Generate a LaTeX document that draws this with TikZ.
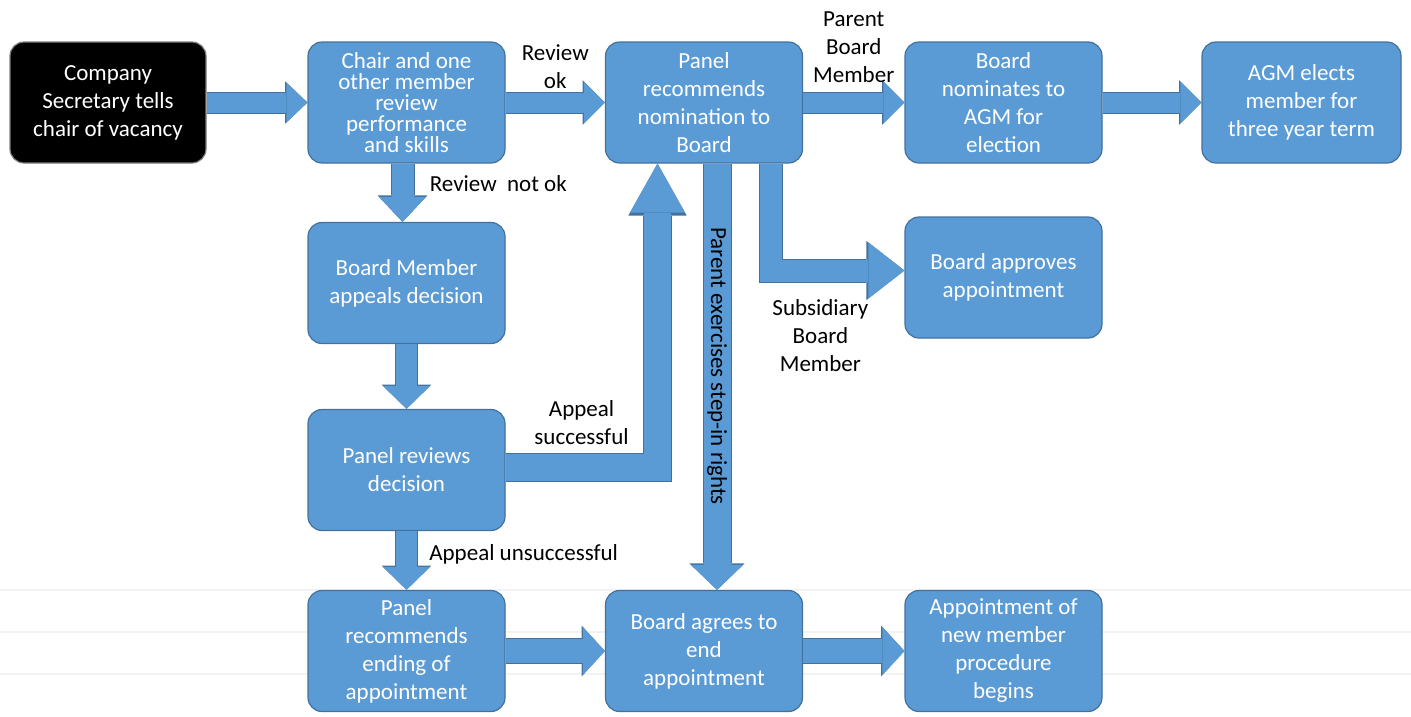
\documentclass[tikz,border=0pt]{standalone}
\usepackage{fontspec}
\setmainfont{Carlito}
\usetikzlibrary{arrows.meta}
\definecolor{boxblue}{HTML}{5B9BD5}
\definecolor{boxedge}{HTML}{41719C}
\definecolor{rulegray}{HTML}{F2F2F2}

\tikzset{
   box/.style={draw=boxedge, line width=1.2pt, fill=boxblue, rounded corners=14pt,
      minimum width=197pt, minimum height=121pt, inner sep=2pt,
      text=white, align=center, font=\fontsize{23}{28}\selectfont},
   lbl/.style={align=center, font=\fontsize{23}{28}\selectfont},
   flow/.style n args={3}{draw=boxblue, line width=#1,
      -{Triangle[width=#2,length=#3,line width=0pt]},
      preaction={draw=boxedge, line width=#1+2pt,
         -{Triangle[width=#2,length=#3,line width=0pt,scale=1.06]}}}
}

\begin{document}
\begin{tikzpicture}[x=1pt,y=-1pt]
   \useasboundingbox (0,0) rectangle (1411,716);
   \draw[rulegray, line width=1.5pt] (0,590) -- (1411,590) (0,632) -- (1411,632) (0,674) -- (1411,674);

   \node[box, fill=black, draw=gray, minimum width=196pt] (secretary) at (108,102.5) {Company\\Secretary tells\\chair of vacancy};
   \node[box, font=\fontsize{23}{21}\selectfont] (chair) at (406.5,102.5) {Chair and one\\other member\\review\\performance\\and skills};
   \node[box] (panelrec) at (704,102.5) {Panel\\recommends\\nomination to\\Board};
   \node[box] (nominates) at (1003.5,102.5) {Board\\nominates to\\AGM for\\election};
   \node[box, minimum width=199pt] (agm) at (1301.5,102.5) {AGM elects\\member for\\three year term};
   \node[box] (appeals) at (406.5,283) {Board Member\\appeals decision};
   \node[box] (approves) at (1003.5,277.5) {Board approves\\appointment};
   \node[box] (reviews) at (406.5,470) {Panel reviews\\decision};
   \node[box] (ending) at (406.5,651) {Panel\\recommends\\ending of\\appointment};
   \node[box] (agrees) at (704,651) {Board agrees to\\end\\appointment};
   \node[box] (newproc) at (1003.5,651) {Appointment of\\new member\\procedure\\begins};

   % top row
   \draw[flow={20pt}{40pt}{21pt}] (secretary.east) -- (chair.west);
   \draw[flow={20pt}{42pt}{21pt}] (chair.east) -- node[lbl, above=1pt] {Review\\ok} (panelrec.west);
   \draw[flow={20pt}{42pt}{21pt}] (panelrec.east) -- node[lbl, above=7pt] {Parent\\Board\\Member} (nominates.west);
   \draw[flow={20pt}{42pt}{21pt}] (nominates.east) -- (agm.west);

   % review not ok, appeal
   \draw[flow={22pt}{47pt}{25pt}] ([xshift=-4pt]chair.south) -- node[lbl, pos=0.35, right=13pt] {Review~~not ok} ([xshift=-4pt]appeals.north);
   \draw[flow={21pt}{47pt}{23pt}] (appeals.south) -- (reviews.north);
   \draw[flow={21pt}{47pt}{23pt}] (reviews.south) -- node[lbl, pos=0.4, right=9pt] {Appeal unsuccessful} (ending.north);
   \draw[flow={27pt}{55pt}{49pt}] ([yshift=3pt]reviews.east) -| node[lbl, pos=0.25, above=6pt] {Appeal\\successful} ([xshift=-46.5pt]panelrec.south);

   % out of the panel
   \draw[flow={27pt}{52pt}{25pt}] ([xshift=13pt]panelrec.south) -- node[lbl, pos=0.475, rotate=-90] {Parent exercises step-in rights} ([xshift=13pt]agrees.north);
   \draw[flow={22pt}{56pt}{36pt}] ([xshift=67pt]panelrec.south) |- node[lbl, pos=0.685, below=15pt] {Subsidiary\\Board\\Member} ([yshift=7pt]approves.west);

   % bottom row
   \draw[flow={24pt}{48pt}{22pt}] (ending.east) -- (agrees.west);
   \draw[flow={24pt}{48pt}{22pt}] (agrees.east) -- (newproc.west);
\end{tikzpicture}
\end{document}
